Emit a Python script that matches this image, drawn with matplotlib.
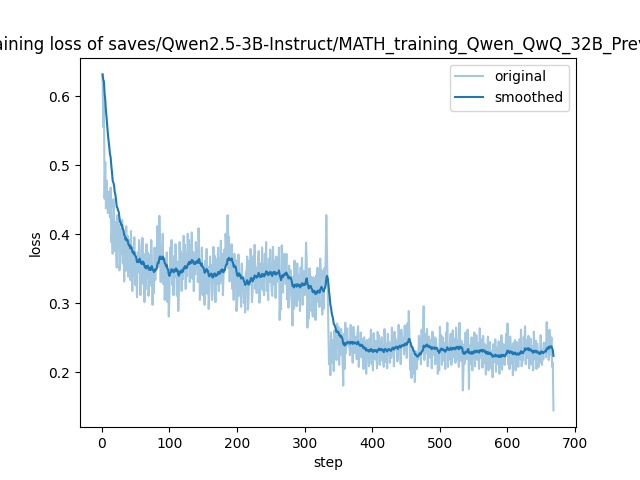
import math
import matplotlib
matplotlib.use("Agg")
import matplotlib.pyplot as plt

title = "training loss of saves/Qwen2.5-3B-Instruct/MATH_training_Qwen_QwQ_32B_Preview"

losses = [
    0.632,0.556,0.601,0.452,0.505,0.438,0.478,0.447,0.431,0.462,
    0.441,0.425,0.468,0.389,0.402,0.372,0.451,0.436,0.376,0.418,
    0.381,0.352,0.428,0.397,0.415,0.348,0.361,0.409,0.372,0.421,
    0.358,0.394,0.332,0.385,0.347,0.412,0.362,0.398,0.339,0.361,
    0.392,0.334,0.405,0.371,0.318,0.378,0.341,0.396,0.327,0.362,
    0.338,0.309,0.374,0.346,0.392,0.381,0.312,0.367,0.328,0.395,
    0.331,0.372,0.302,0.358,0.321,0.386,0.338,0.374,0.311,0.336,
    0.371,0.326,0.392,0.364,0.298,0.352,0.315,0.381,0.334,0.369,
    0.352,0.412,0.389,0.353,0.427,0.391,0.331,0.382,0.348,0.401,
    0.328,0.366,0.305,0.352,0.318,0.374,0.302,0.341,0.281,0.316,
    0.381,0.354,0.392,0.327,0.361,0.312,0.369,0.338,0.386,0.352,
    0.311,0.361,0.289,0.322,0.389,0.342,0.376,0.318,0.371,0.335,
    0.398,0.346,0.385,0.321,0.372,0.339,0.401,0.358,0.392,0.331,
    0.384,0.347,0.403,0.336,0.375,0.318,0.371,0.342,0.389,0.352,
    0.382,0.331,0.409,0.371,0.305,0.359,0.322,0.381,0.312,0.346,
    0.326,0.298,0.362,0.351,0.379,0.314,0.353,0.292,0.318,0.368,
    0.341,0.356,0.305,0.319,0.382,0.331,0.369,0.302,0.364,0.328,
    0.352,0.381,0.318,0.366,0.329,0.391,0.335,0.372,0.312,0.341,
    0.378,0.348,0.401,0.382,0.361,0.428,0.351,0.397,0.332,0.368,
    0.359,0.386,0.321,0.338,0.305,0.372,0.327,0.363,0.289,0.298,
    0.318,0.371,0.352,0.311,0.343,0.295,0.358,0.322,0.339,0.301,
    0.312,0.287,0.346,0.341,0.368,0.291,0.308,0.362,0.327,0.379,
    0.355,0.302,0.318,0.369,0.334,0.385,0.321,0.352,0.315,0.348,
    0.362,0.376,0.301,0.325,0.358,0.322,0.381,0.319,0.357,0.312,
    0.372,0.338,0.389,0.318,0.356,0.305,0.365,0.331,0.378,0.342,
    0.322,0.311,0.382,0.359,0.327,0.361,0.308,0.368,0.331,0.352,
    0.348,0.381,0.276,0.318,0.291,0.384,0.359,0.316,0.372,0.339,
    0.361,0.328,0.372,0.306,0.341,0.294,0.355,0.322,0.348,0.311,
    0.301,0.268,0.339,0.292,0.362,0.312,0.345,0.296,0.358,0.328,
    0.305,0.341,0.289,0.352,0.318,0.366,0.298,0.331,0.347,0.312,
    0.331,0.388,0.362,0.265,0.302,0.278,0.351,0.318,0.339,0.289,
    0.306,0.281,0.338,0.297,0.329,0.276,0.341,0.302,0.352,0.318,
    0.312,0.295,0.365,0.331,0.348,0.284,0.319,0.292,0.351,0.338,
    0.362,0.428,0.371,0.308,0.265,
    0.212,0.231,0.196,0.258,0.214,0.247,0.238,0.202,0.261,0.244,
    0.232,0.218,0.271,0.242,0.266,0.211,0.258,0.226,0.263,0.237,
    0.219,0.181,0.256,0.205,0.272,0.228,0.251,0.264,0.239,0.247,
    0.238,0.225,0.269,0.231,0.258,0.214,0.266,0.241,0.228,0.252,
    0.246,0.219,0.255,0.267,0.208,0.229,0.226,0.258,0.222,0.249,
    0.226,0.205,0.251,0.216,0.243,0.198,0.247,0.221,0.238,0.209,
    0.249,0.221,0.262,0.212,0.238,0.203,0.257,0.231,0.219,0.246,
    0.228,0.206,0.259,0.234,0.254,0.211,0.245,0.218,0.251,0.226,
    0.219,0.208,0.263,0.247,0.215,0.241,0.206,0.256,0.232,0.244,
    0.214,0.238,0.221,0.265,0.227,0.254,0.209,0.259,0.233,0.248,
    0.243,0.216,0.222,0.269,0.231,0.257,0.212,0.262,0.238,0.251,
    0.239,0.226,0.268,0.232,0.259,0.221,0.271,0.248,0.289,0.252,
    0.204,0.226,0.192,0.235,0.218,0.198,0.221,0.186,0.231,0.213,
    0.205,0.228,0.219,0.253,0.224,0.249,0.212,0.262,0.237,0.248,
    0.296,0.218,0.241,0.256,0.229,0.263,0.209,0.235,0.252,0.224,
    0.221,0.247,0.206,0.259,0.232,0.226,0.251,0.212,0.249,0.238,
    0.227,0.198,0.229,0.203,0.266,0.238,0.254,0.211,0.251,0.224,
    0.217,0.243,0.205,0.258,0.231,0.272,0.208,0.236,0.219,0.245,
    0.256,0.211,0.228,0.261,0.234,0.222,0.249,0.214,0.265,0.241,
    0.219,0.247,0.208,0.272,0.235,0.217,0.246,0.228,0.174,0.209,
    0.241,0.213,0.258,0.219,0.233,0.262,0.245,0.176,0.239,0.212,
    0.226,0.251,0.203,0.249,0.221,0.258,0.209,0.231,0.254,0.226,
    0.218,0.243,0.205,0.264,0.232,0.221,0.248,0.207,0.253,0.229,
    0.214,0.241,0.197,0.238,0.211,0.252,0.203,0.226,0.244,0.219,
    0.206,0.231,0.193,0.241,0.215,0.222,0.248,0.201,0.236,0.212,
    0.219,0.245,0.198,0.238,0.209,0.254,0.204,0.227,0.241,0.216,
    0.211,0.233,0.256,0.227,0.271,0.212,0.238,0.205,0.252,0.231,
    0.213,0.239,0.196,0.243,0.218,0.247,0.203,0.221,0.244,0.226,
    0.208,0.231,0.248,0.219,0.262,0.209,0.234,0.217,0.251,0.242,
    0.267,0.212,0.239,0.247,0.221,0.253,0.206,0.228,0.249,0.224,
    0.211,0.238,0.203,0.259,0.229,0.219,0.246,0.205,0.242,0.227,
    0.208,0.231,0.214,0.254,0.241,0.211,0.232,0.219,0.243,0.236,
    0.243,0.222,0.273,0.229,0.256,0.218,0.262,0.241,0.226,0.251,
    0.208,0.214,0.145,
]
steps = list(range(1, len(losses) + 1))


def smooth(scalars):
    last = scalars[0]
    out = []
    weight = 1.8 * (1 / (1 + math.exp(-0.05 * len(scalars))) - 0.5)
    for v in scalars:
        s = last * weight + (1 - weight) * v
        out.append(s)
        last = s
    return out


plt.figure(figsize=(6.4, 4.8), dpi=100)
plt.plot(steps, losses, color="#1f77b4", alpha=0.4, label="original")
plt.plot(steps, smooth(losses), color="#1f77b4", label="smoothed")
plt.title(title)
plt.xlabel("step")
plt.ylabel("loss")
plt.legend()
plt.savefig("out.png", dpi=100)
